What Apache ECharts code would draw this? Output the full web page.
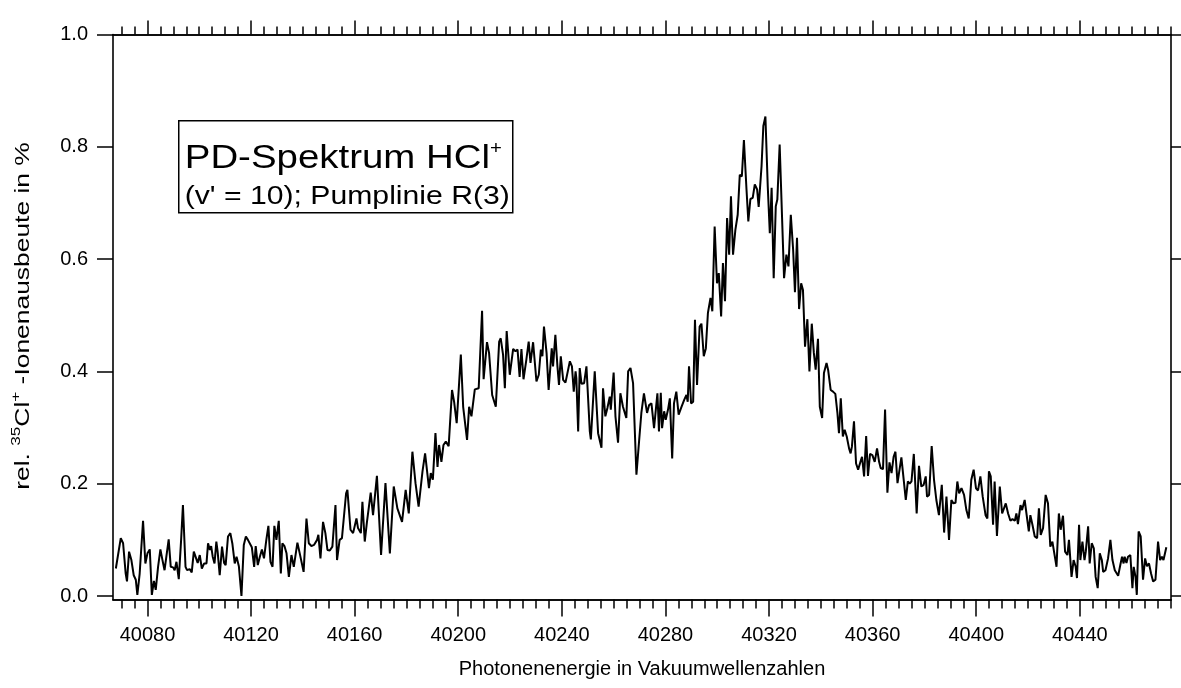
<!DOCTYPE html>
<html>
<head>
<meta charset="utf-8">
<script src="https://cdn.jsdelivr.net/npm/echarts@6/dist/echarts.min.js"></script>
<style>
  html, body { margin: 0; padding: 0; background: #fff; }
  #chart { width: 1181px; height: 688px; }
</style>
</head>
<body>
<div id="chart"></div>
<script>
// Photodissociation spectrum: photon energy (vacuum wavenumbers) vs. relative ion yield (%)
const wavenumber = [
  40067.8, 40069.7, 40070.6, 40071.6, 40072.1, 40072.9, 40073.8, 40074.7, 40075.5, 40076.1,
  40077.0, 40078.3, 40079.2, 40080.0, 40080.9, 40081.7, 40082.5, 40083.2, 40084.1, 40085.0,
  40085.8, 40086.6, 40087.3, 40088.2, 40089.0, 40089.9, 40090.5, 40091.2, 40092.1, 40093.0,
  40093.7, 40094.7, 40095.3, 40096.3, 40097.1, 40097.9, 40098.6, 40099.4, 40100.2, 40101.0,
  40101.9, 40102.8, 40103.4, 40104.1, 40104.6, 40105.2, 40105.9, 40106.6, 40107.1, 40107.9,
  40108.8, 40109.6, 40110.2, 40111.1, 40112.0, 40112.8, 40113.7, 40114.4, 40115.3, 40116.3,
  40117.2, 40118.0, 40118.8, 40119.5, 40120.3, 40121.2, 40121.8, 40122.6, 40123.4, 40124.2,
  40125.0, 40125.9, 40126.7, 40127.5, 40128.3, 40129.0, 40129.8, 40130.7, 40131.5, 40132.1,
  40132.9, 40133.7, 40134.6,
  40135.6, 40136.5, 40137.9, 40138.8, 40140.3, 40141.4, 40142.3, 40143.3, 40144.3, 40145.5,
  40146.0, 40146.8, 40147.8, 40148.7, 40149.5, 40150.4, 40151.4, 40152.6, 40153.2, 40154.2,
  40155.1, 40155.7, 40156.7, 40157.2, 40158.4, 40159.4, 40160.7, 40161.3, 40162.4, 40163.0,
  40163.9, 40164.7, 40165.4, 40166.2, 40167.1, 40167.8, 40168.6, 40170.2, 40171.9, 40173.6,
  40175.1, 40176.5, 40177.1, 40178.3, 40179.7, 40180.9, 40182.3, 40183.5, 40184.7, 40186.2,
  40187.2, 40188.7, 40189.4, 40190.2, 40191.2, 40192.0, 40192.6, 40193.5, 40194.3, 40195.2,
  40196.3, 40197.6, 40198.4, 40199.4, 40201.0,
  40201.9, 40203.4, 40204.2, 40205.1, 40206.4, 40207.9, 40209.2, 40209.8, 40211.1, 40211.9,
  40213.1, 40214.5, 40215.8, 40216.4, 40217.3, 40218.0, 40218.7, 40219.9, 40220.5, 40221.2,
  40222.1, 40222.9, 40223.7, 40224.4, 40225.2, 40226.3, 40227.2, 40227.9, 40228.9, 40230.2,
  40231.1, 40231.9, 40232.5, 40233.1, 40234.1, 40234.9, 40236.1, 40236.6, 40237.5, 40238.3,
  40238.9, 40239.6, 40240.5, 40241.4, 40242.0, 40243.1, 40243.9, 40244.6, 40245.3, 40245.6,
  40246.3, 40246.9, 40247.6, 40248.6, 40249.5, 40250.8, 40251.2, 40252.7, 40254.0, 40255.3,
  40255.9, 40256.8, 40257.6, 40258.5, 40258.9, 40260.0, 40260.7, 40261.7, 40262.6, 40263.6,
  40264.9, 40265.6, 40266.5, 40267.5, 40268.8, 40269.6, 40270.7, 40271.7,
  40272.9, 40273.7, 40274.6, 40275.6, 40276.3, 40276.9, 40277.5, 40278.2, 40278.7, 40279.5,
  40280.1, 40281.0, 40281.7, 40282.6, 40283.3, 40284.2, 40285.1, 40286.2, 40287.2, 40288.1,
  40288.6, 40289.1, 40289.9, 40290.7, 40291.4, 40292.2, 40293.2, 40293.9, 40294.8, 40295.6,
  40296.4, 40297.4, 40298.1, 40299.0, 40299.9, 40300.6, 40301.5, 40302.2, 40303.0, 40303.8,
  40304.6, 40305.3, 40306.1, 40307.0, 40307.9, 40308.7, 40309.5, 40310.3, 40311.3, 40312.0,
  40312.8, 40313.7, 40314.5, 40315.4, 40316.0, 40317.1, 40317.8, 40318.6, 40319.5, 40320.3,
  40321.0, 40321.8, 40322.6, 40323.2, 40324.1, 40325.8, 40326.7, 40327.5, 40328.4, 40329.3,
  40330.0, 40330.8, 40331.6, 40332.4, 40333.1, 40333.9, 40334.8, 40335.6, 40336.5, 40337.3,
  40338.0, 40338.9, 40339.6,
  40340.5, 40341.2, 40342.2, 40342.8, 40343.8, 40344.7, 40345.6, 40346.4, 40347.0, 40347.7,
  40348.5, 40349.2, 40350.0, 40350.9, 40351.5, 40352.0, 40352.8, 40353.6, 40354.4, 40355.3,
  40355.9, 40356.7, 40357.5, 40358.2, 40359.0, 40359.9, 40360.8, 40361.7, 40362.5, 40363.1,
  40364.0, 40364.8, 40365.7, 40366.5, 40367.3, 40368.1, 40368.8, 40369.6, 40370.3, 40371.1,
  40372.0, 40372.8, 40373.6, 40374.3, 40375.0, 40375.9, 40377.0, 40377.9, 40378.8, 40379.7,
  40380.5, 40381.0, 40381.8, 40382.8, 40383.7, 40384.6, 40385.6, 40386.7, 40387.6, 40388.5,
  40389.5, 40390.4, 40391.2, 40392.0, 40392.7, 40393.4, 40394.3, 40395.3, 40396.2, 40397.1,
  40398.1, 40399.0, 40399.9, 40400.7, 40401.6, 40402.5, 40403.6, 40404.3, 40404.9, 40405.6,
  40406.5,
  40407.1, 40408.0, 40409.1, 40410.0, 40410.6, 40411.4, 40412.3, 40413.2, 40414.0, 40414.9,
  40415.5, 40416.1, 40417.1, 40417.7, 40418.7, 40419.4, 40420.3, 40420.9, 40421.7, 40422.6,
  40423.5, 40424.2, 40424.9, 40425.8, 40426.8, 40427.7, 40428.6, 40429.4, 40431.0, 40431.9,
  40432.6, 40433.5, 40434.3, 40435.2, 40435.8, 40436.8, 40437.6, 40438.4, 40438.9, 40439.7,
  40440.2, 40441.0, 40441.8, 40442.3, 40443.2, 40443.8, 40444.6, 40445.4, 40446.1, 40446.9,
  40447.7, 40448.5, 40449.0, 40449.9, 40450.9, 40451.8, 40452.6, 40453.5, 40454.1, 40454.8,
  40455.7, 40456.3, 40456.9, 40457.3, 40458.0, 40458.6, 40459.5, 40460.3, 40460.8, 40461.5,
  40462.0, 40462.7, 40463.5, 40464.4, 40465.2, 40465.9, 40466.7, 40467.5, 40468.3, 40469.2,
  40470.2, 40471.0, 40471.7, 40472.3, 40473.4
];

const ionYield = [
  0.049, 0.103, 0.094, 0.040, 0.026, 0.079, 0.064, 0.037, 0.029, 0.002,
  0.040, 0.134, 0.058, 0.076, 0.083, 0.002, 0.027, 0.011, 0.052, 0.083,
  0.064, 0.046, 0.070, 0.101, 0.052, 0.051, 0.046, 0.061, 0.030, 0.100,
  0.162, 0.052, 0.046, 0.048, 0.042, 0.079, 0.076, 0.059, 0.073, 0.049,
  0.058, 0.058, 0.094, 0.082, 0.089, 0.070, 0.058, 0.097, 0.079, 0.037,
  0.088, 0.059, 0.055, 0.106, 0.112, 0.093, 0.058, 0.070, 0.053, 0.000,
  0.091, 0.106, 0.100, 0.097, 0.087, 0.052, 0.089, 0.055, 0.070, 0.083,
  0.067, 0.100, 0.125, 0.061, 0.052, 0.125, 0.100, 0.134, 0.040, 0.094,
  0.089, 0.076, 0.034,
  0.073, 0.052, 0.095, 0.076, 0.043, 0.138, 0.094, 0.089, 0.091, 0.100,
  0.109, 0.067, 0.132, 0.112, 0.082, 0.081, 0.088, 0.162, 0.064, 0.100,
  0.103, 0.106, 0.183, 0.189, 0.118, 0.112, 0.138, 0.121, 0.112, 0.168,
  0.097, 0.130, 0.127, 0.184, 0.144, 0.141, 0.214, 0.073, 0.201, 0.076,
  0.195, 0.156, 0.153, 0.132, 0.189, 0.147, 0.257, 0.201, 0.159, 0.222,
  0.254, 0.192, 0.219, 0.207, 0.290, 0.230, 0.269, 0.239, 0.269, 0.275,
  0.267, 0.367, 0.346, 0.308, 0.430,
  0.337, 0.278, 0.337, 0.320, 0.368, 0.370, 0.508, 0.386, 0.452, 0.433,
  0.358, 0.337, 0.453, 0.459, 0.430, 0.370, 0.472, 0.394, 0.396, 0.440,
  0.436, 0.439, 0.390, 0.440, 0.386, 0.421, 0.453, 0.415, 0.452, 0.382,
  0.394, 0.439, 0.427, 0.480, 0.433, 0.367, 0.441, 0.409, 0.465, 0.409,
  0.376, 0.427, 0.385, 0.380, 0.382, 0.418, 0.409, 0.364, 0.400, 0.388,
  0.293, 0.406, 0.378, 0.379, 0.409, 0.293, 0.279, 0.400, 0.290, 0.264,
  0.370, 0.320, 0.335, 0.355, 0.332, 0.398, 0.320, 0.273, 0.361, 0.337,
  0.317, 0.400, 0.406, 0.379, 0.216, 0.263, 0.326, 0.361,
  0.326, 0.340, 0.343, 0.299, 0.296, 0.361, 0.293, 0.362, 0.299, 0.329,
  0.314, 0.332, 0.352, 0.245, 0.343, 0.364, 0.323, 0.337, 0.349, 0.358,
  0.346, 0.409, 0.343, 0.346, 0.492, 0.376, 0.480, 0.485, 0.427, 0.441,
  0.504, 0.531, 0.507, 0.658, 0.557, 0.575, 0.498, 0.593, 0.525, 0.673,
  0.608, 0.712, 0.608, 0.652, 0.679, 0.750, 0.747, 0.812, 0.724, 0.667,
  0.707, 0.709, 0.733, 0.724, 0.693, 0.765, 0.837, 0.854, 0.730, 0.646,
  0.727, 0.566, 0.694, 0.706, 0.804, 0.566, 0.608, 0.587, 0.679, 0.617,
  0.541, 0.638, 0.511, 0.557, 0.545, 0.444, 0.493, 0.400, 0.485, 0.433,
  0.403, 0.458, 0.337,
  0.317, 0.397, 0.415, 0.403, 0.367, 0.364, 0.360, 0.326, 0.290, 0.352,
  0.284, 0.296, 0.284, 0.263, 0.254, 0.266, 0.311, 0.236, 0.225, 0.239,
  0.248, 0.213, 0.285, 0.214, 0.253, 0.251, 0.239, 0.263, 0.239, 0.228,
  0.226, 0.332, 0.184, 0.238, 0.219, 0.248, 0.257, 0.201, 0.204, 0.247,
  0.207, 0.171, 0.204, 0.200, 0.204, 0.253, 0.147, 0.232, 0.195, 0.198,
  0.213, 0.177, 0.180, 0.267, 0.207, 0.171, 0.144, 0.198, 0.113, 0.177,
  0.100, 0.171, 0.165, 0.166, 0.204, 0.183, 0.192, 0.180, 0.153, 0.138,
  0.207, 0.225, 0.192, 0.188, 0.213, 0.177, 0.144, 0.138, 0.222, 0.213,
  0.127,
  0.204, 0.107, 0.195, 0.147, 0.147, 0.165, 0.147, 0.134, 0.137, 0.134,
  0.147, 0.128, 0.162, 0.153, 0.171, 0.168, 0.115, 0.144, 0.127, 0.106,
  0.103, 0.156, 0.109, 0.121, 0.180, 0.165, 0.088, 0.097, 0.052, 0.147,
  0.118, 0.143, 0.079, 0.073, 0.100, 0.034, 0.064, 0.052, 0.032, 0.127,
  0.064, 0.097, 0.064, 0.079, 0.124, 0.058, 0.094, 0.085, 0.034, 0.014,
  0.076, 0.064, 0.043, 0.046, 0.067, 0.100, 0.064, 0.046, 0.043, 0.036,
  0.057, 0.070, 0.058, 0.070, 0.059, 0.070, 0.073, 0.014, 0.052, 0.034,
  0.002, 0.115, 0.106, 0.029, 0.067, 0.053, 0.058, 0.040, 0.026, 0.029,
  0.097, 0.064, 0.070, 0.064, 0.087
];

// Axis ranges and labelled tick values
const xRange = [40066.7, 40475.2];
const yRange = [-0.0062, 1.0];
const xMajorTicks = [40080, 40120, 40160, 40200, 40240, 40280, 40320, 40360, 40400, 40440];
const yTicks = [0.0, 0.2, 0.4, 0.6, 0.8, 1.0];
const xMinorStep = 5;

const xMinorTicks = [];
for (let v = Math.ceil(xRange[0] / xMinorStep) * xMinorStep; v <= xRange[1]; v += xMinorStep) {
  if (!xMajorTicks.includes(v)) xMinorTicks.push(v);
}

const FONT = 'Liberation Sans, Arial, Helvetica, sans-serif';
const INK = '#000';
const axisLineStyle = { color: INK, width: 1.6 };
const tickLineStyle = { color: INK, width: 1.5 };

function xAxisBase(position) {
  return {
    type: 'value',
    position: position,
    min: xRange[0],
    max: xRange[1],
    splitLine: { show: false },
    axisLine: { show: true, onZero: false, lineStyle: axisLineStyle },
    axisLabel: { show: false }
  };
}

function yAxisBase(position) {
  return {
    type: 'value',
    position: position,
    min: yRange[0],
    max: yRange[1],
    splitLine: { show: false },
    axisLine: { show: true, onZero: false, lineStyle: axisLineStyle },
    axisLabel: { show: false }
  };
}

const chart = echarts.init(document.getElementById('chart'), null, { renderer: 'canvas' });

chart.setOption({
  animation: false,
  backgroundColor: '#fff',
  grid: { left: 113, right: 10, top: 34.5, bottom: 88.5, containLabel: false },
  xAxis: [
    Object.assign(xAxisBase('bottom'), {
      axisTick: { show: true, customValues: xMajorTicks, length: 17, lineStyle: tickLineStyle },
      axisLabel: {
        show: true, customValues: xMajorTicks, margin: 26,
        formatter: (v) => String(v),
        color: INK, fontFamily: FONT, fontSize: 20
      },
      name: 'Photonenenergie in Vakuumwellenzahlen',
      nameLocation: 'middle',
      nameGap: 60,
      nameTextStyle: { color: INK, fontFamily: FONT, fontSize: 20 }
    }),
    Object.assign(xAxisBase('bottom'), {
      axisTick: { show: true, customValues: xMinorTicks, length: 9, lineStyle: tickLineStyle }
    }),
    Object.assign(xAxisBase('top'), {
      axisTick: { show: true, customValues: xMajorTicks, length: 14, lineStyle: tickLineStyle }
    }),
    Object.assign(xAxisBase('top'), {
      axisTick: { show: true, customValues: xMinorTicks, length: 8, lineStyle: tickLineStyle }
    })
  ],
  yAxis: [
    Object.assign(yAxisBase('left'), {
      axisTick: { show: true, customValues: yTicks, length: 16, lineStyle: tickLineStyle },
      axisLabel: {
        show: true, customValues: yTicks, margin: 25,
        formatter: (v) => v.toFixed(1),
        color: INK, fontFamily: FONT, fontSize: 20
      }
    }),
    Object.assign(yAxisBase('right'), {
      axisTick: { show: true, customValues: yTicks, length: 10, lineStyle: tickLineStyle }
    })
  ],
  graphic: [
    {
      // vertical axis title (narrow, tall lettering)
      type: 'text',
      x: 23,
      y: 316,
      rotation: Math.PI / 2,
      scaleX: 1.32,
      style: {
        text: '{t|rel. }{s|35}{t|Cl}{s|+}{t| -Ionenausbeute in %}',
        align: 'center',
        verticalAlign: 'middle',
        rich: {
          t: { fontFamily: FONT, fontSize: 20, fill: INK, lineHeight: 26 },
          s: { fontFamily: FONT, fontSize: 13, fill: INK, lineHeight: 14, verticalAlign: 'top' }
        }
      }
    },
    {
      type: 'group',
      left: 178,
      top: 120,
      children: [
        {
          type: 'rect',
          shape: { x: 0, y: 0, width: 334, height: 92 },
          style: { fill: '#fff', stroke: INK, lineWidth: 1.5 }
        },
        {
          type: 'text',
          x: 6, y: 19,
          scaleX: 1.13,
          style: {
            text: '{a|PD-Spektrum HCl}{s|+}',
            rich: {
              a: { fontFamily: FONT, fontSize: 34, fill: INK, lineHeight: 38 },
              s: { fontFamily: FONT, fontSize: 18, fill: INK, lineHeight: 18, verticalAlign: 'top' }
            }
          }
        },
        {
          type: 'text',
          x: 6, y: 63,
          scaleX: 1.16,
          style: {
            text: "(v' = 10); Pumplinie R(3)",
            fontFamily: FONT, fontSize: 26, fill: INK
          }
        }
      ]
    }
  ],
  series: [{
    type: 'line',
    xAxisIndex: 0,
    yAxisIndex: 0,
    data: wavenumber.map((w, i) => [w, ionYield[i]]),
    showSymbol: false,
    symbol: 'none',
    silent: true,
    lineStyle: { color: INK, width: 2 },
    itemStyle: { color: INK }
  }]
});
</script>
</body>
</html>
